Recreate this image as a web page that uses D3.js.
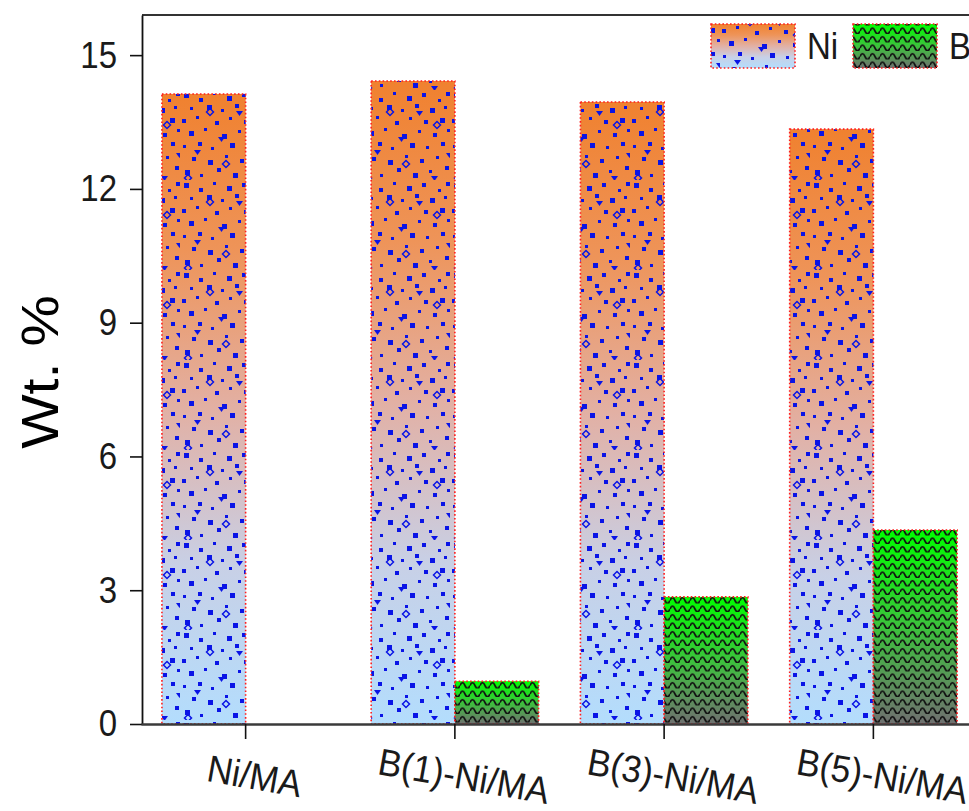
<!DOCTYPE html>
<html>
<head>
<meta charset="utf-8">
<script src="https://cdn.jsdelivr.net/npm/d3@7"></script>
<style>
  html, body { margin: 0; padding: 0; background: #fff; overflow: hidden; }
  svg { display: block; font-family: Arial, "Liberation Sans", sans-serif; }
</style>
</head>
<body>
<svg id="chart" width="969" height="811"></svg>
<script>
// Elemental content of the catalysts (wt. %)
const categories = ["Ni/MA", "B(1)-Ni/MA", "B(3)-Ni/MA", "B(5)-Ni/MA"];
const niValues = [14.13, 14.42, 13.95, 13.34];
const bValues = [null, 0.96, 2.85, 4.35];
const seriesNames = ["Ni", "B"];
const yTicks = [0, 3, 6, 9, 12, 15];

const svg = d3.select("#chart");
const plotLeft = 142, plotTop = 15, plotBottom = 724;

const x = d3.scaleBand().domain(categories).range([141, 978]).padding(0);
const y = d3.scaleLinear().domain([0, 15.9]).range([plotBottom, plotTop]);
const bw = x.bandwidth() * 0.4;

// ---- fills: gradients + overlay patterns ----
const defs = svg.append("defs");

const niGrad = defs.append("linearGradient").attr("id", "niGrad")
  .attr("x1", 0).attr("y1", 0).attr("x2", 0).attr("y2", 1);
[[0, "#f0812f"], [0.25, "#ee9459"], [0.5, "#e2b0a4"], [0.75, "#c8d0e6"], [1, "#b3ddfd"]]
  .forEach(([o, c]) => niGrad.append("stop").attr("offset", o).attr("stop-color", c));

const bGrad = defs.append("linearGradient").attr("id", "bGrad")
  .attr("x1", 0).attr("y1", 0).attr("x2", 0).attr("y2", 1);
[[0, "#00ff00"], [0.5, "#3cc23c"], [1, "#707070"]]
  .forEach(([o, c]) => bGrad.append("stop").attr("offset", o).attr("stop-color", c));

// scattered blue specks for the Ni bars
const dotPat = defs.append("pattern").attr("id", "dots")
  .attr("patternUnits", "userSpaceOnUse").attr("width", 90).attr("height", 90);
const blue = "#0a14e6";
const squares = [
  [4,3,5],[19,8,4],[33,2,3],[47,6,5],[62,3,4],[78,9,3],[86,2,4],
  [10,17,3],[27,15,5],[41,19,3],[55,14,4],[70,18,5],[84,16,3],
  [2,29,4],[16,26,3],[35,31,4],[49,27,3],[64,30,4],[80,28,5],
  [9,41,5],[24,38,3],[42,44,5],[58,40,3],[73,43,4],[87,39,3],
  [3,55,3],[18,52,4],[31,57,3],[50,53,5],[66,56,3],[81,52,4],
  [12,67,4],[28,70,5],[45,65,3],[60,69,4],[76,66,3],
  [5,80,5],[20,84,3],[37,78,4],[53,83,5],[69,80,3],[85,76,4]];
squares.forEach(([px, py, s]) => dotPat.append("rect")
  .attr("x", px).attr("y", py).attr("width", s).attr("height", s).attr("fill", blue));
const tris = [[56,21],[14,60],[71,86],[38,47],[86,63]];
tris.forEach(([px, py]) => dotPat.append("path")
  .attr("d", `M${px},${py} h7 l-3.5,5 z`).attr("fill", blue));
const diamonds = [[30,22],[77,35],[46,74],[8,88]];
diamonds.forEach(([px, py]) => dotPat.append("path")
  .attr("d", `M${px},${py - 3.5} l3.5,3.5 l-3.5,3.5 l-3.5,-3.5 z`)
  .attr("fill", "none").attr("stroke", blue).attr("stroke-width", 1.5));

// wavy lines for the B bars
const wavePat = defs.append("pattern").attr("id", "waves")
  .attr("patternUnits", "userSpaceOnUse").attr("width", 10).attr("height", 8.5);
wavePat.append("path")
  .attr("d", "M0,5.5 Q2.5,0 5,5.5 T10,5.5")
  .attr("fill", "none").attr("stroke", "#111").attr("stroke-width", 1.8);

function fancyRect(g, x0, y0, w, h, grad, pat) {
  g.append("rect").attr("x", x0).attr("y", y0).attr("width", w).attr("height", h)
    .attr("fill", `url(#${grad})`);
  g.append("rect").attr("x", x0).attr("y", y0).attr("width", w).attr("height", h)
    .attr("fill", `url(#${pat})`);
  g.append("rect").attr("x", x0).attr("y", y0).attr("width", w).attr("height", h)
    .attr("fill", "none").attr("stroke", "#ff1e1e").attr("stroke-width", 1.6)
    .attr("stroke-dasharray", "1.6,2.2");
}

// ---- bars ----
const bars = svg.append("g");
categories.forEach((c, i) => {
  const cx = x(c) + x.bandwidth() / 2;
  const nv = niValues[i];
  fancyRect(bars, cx - bw, y(nv), bw, y(0) - y(nv), "niGrad", "dots");
  const bv = bValues[i];
  if (bv != null) fancyRect(bars, cx, y(bv), bw, y(0) - y(bv), "bGrad", "waves");
});

// ---- frame top ----
svg.append("line").attr("x1", plotLeft).attr("x2", 969).attr("y1", plotTop).attr("y2", plotTop)
  .attr("stroke", "#333").attr("stroke-width", 2);

// ---- axes ----
const yAxis = svg.append("g").attr("transform", `translate(${plotLeft},0)`)
  .call(d3.axisLeft(y).tickValues(yTicks).tickSize(12).tickSizeOuter(0).tickPadding(13));
yAxis.select(".domain").attr("stroke", "#111").attr("stroke-width", 1.8);
yAxis.selectAll(".tick line").attr("stroke", "#111").attr("stroke-width", 1.6);
yAxis.selectAll(".tick text").attr("font-size", 33).attr("fill", "#1a1a1a")
  .attr("font-family", "Arial, 'Liberation Sans', sans-serif")
  .attr("transform", "scale(1,1.13)");

const xAxis = svg.append("g").attr("transform", `translate(0,${plotBottom})`)
  .call(d3.axisBottom(x).tickSize(15).tickSizeOuter(0).tickFormat(""));
xAxis.select(".domain").attr("stroke", "#3a3a3a").attr("stroke-width", 2.6);
xAxis.selectAll(".tick line").attr("stroke", "#111").attr("stroke-width", 1.6);

// rotated category labels
svg.append("g").selectAll("text").data(categories).join("text")
  .attr("transform", d => `translate(${x(d) + x.bandwidth() / 2 + 9},${776}) rotate(10) scale(1,1.08)`)
  .attr("text-anchor", "middle").attr("dy", "0.35em")
  .attr("font-size", 35).attr("fill", "#1a1a1a")
  .text(d => d);

// y title
svg.append("text")
  .attr("transform", "translate(40,372) rotate(-90) scale(1.13,1)")
  .attr("text-anchor", "middle").attr("dy", "0.35em")
  .attr("font-size", 51).attr("fill", "#000")
  .text("Wt. %");

// ---- legend ----
const legend = svg.append("g");
const legendItems = [
  { name: seriesNames[0], x: 711, grad: "niGrad", pat: "dots" },
  { name: seriesNames[1], x: 853, grad: "bGrad", pat: "waves" }
];
legendItems.forEach(it => {
  fancyRect(legend, it.x, 24, 84, 44, it.grad, it.pat);
  legend.append("text").attr("transform", `translate(${it.x + 96},46) scale(1,1.13)`)
    .attr("dy", "0.35em").attr("font-size", 33).attr("fill", "#1a1a1a").text(it.name);
});
</script>
</body>
</html>
